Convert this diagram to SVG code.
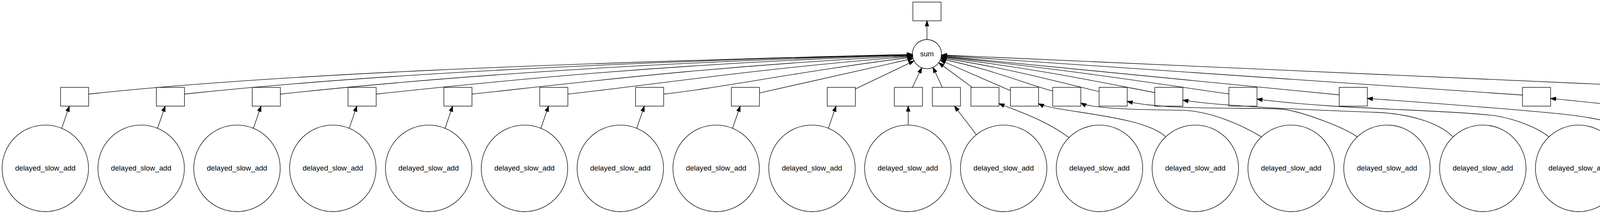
<svg xmlns="http://www.w3.org/2000/svg" width="4894" height="547" viewBox="0 0 4894 547">
<defs>
<style>
.n{fill:none;stroke:#000;stroke-width:1.33}
.e{fill:none;stroke:#000;stroke-width:1.33;marker-end:url(#a)}
text{font-family:"Liberation Sans",Arial,Helvetica,sans-serif;font-size:18.67px;text-anchor:middle;fill:#000}
</style>
<marker id="a" markerUnits="userSpaceOnUse" markerWidth="20" markerHeight="14" refX="13.33" refY="4.67" orient="auto" overflow="visible"><path d="M0,0 L13.33,4.67 L0,9.33 Z" fill="#000" stroke="#000" stroke-width="1.33"/></marker>
</defs>
<rect width="4894" height="547" fill="#fff"/>
<g id="edges">
<path class="e" d="M2373,101 L2373,53.33"/>
<path class="e" d="M227,240.5 C699.3,190 1399.4,162.2 2335.67,138.8"/>
<path class="e" d="M472.33,240.5 C889.7,195.8 1508.4,160.2 2335.69,139.5"/>
<path class="e" d="M717.67,240.5 C1080.1,201.7 1617.3,159.7 2335.72,140.3"/>
<path class="e" d="M963,240.5 C1270.5,207.6 1726.3,160.8 2335.79,141.3"/>
<path class="e" d="M1208.33,240.5 C1460.9,213.5 1835.3,167 2335.9,142.5"/>
<path class="e" d="M1453.67,240.5 C1651.4,219.3 1944.3,174.2 2336.1,144"/>
<path class="e" d="M1699,240.5 C1841.8,225.2 2053.5,181.4 2336.47,146"/>
<path class="e" d="M1944.33,237.6 L2337.38,149.5"/>
<path class="e" d="M2189.67,227.3 L2339.9,155.7"/>
<path class="e" d="M2335.7,223.33 L2359.7,173.2"/>
<path class="e" d="M2412.3,223.33 L2388.5,172.3"/>
<path class="e" d="M2488.7,223.33 L2403.3,160.4"/>
<path class="e" d="M2586.67,231.7 L2407.1,153.75"/>
<path class="e" d="M2694.9,232.7 C2630.5,215.9 2535.5,175.9 2408.29,150.5"/>
<path class="e" d="M2813.6,234 C2723,213.3 2588.7,174.9 2409.06,148"/>
<path class="e" d="M2956.2,236.7 C2834.2,213.6 2653.7,175 2409.53,146"/>
<path class="e" d="M3145.9,240 C2981.1,217.4 2736.7,177.2 2409.82,144.5"/>
<path class="e" d="M3428.4,242.5 L2410.04,143"/>
<path class="e" d="M3897.5,243 L2410.19,141.5"/>
<path class="e" d="M4741.33,244 L2410.27,140.5"/>
<path class="e" d="M158,327.93 L177.5,271.33"/>
<path class="e" d="M403.33,327.93 L422.83,271.33"/>
<path class="e" d="M648.67,327.93 L668.17,271.33"/>
<path class="e" d="M894,327.93 L913.5,271.33"/>
<path class="e" d="M1139.33,327.93 L1158.83,271.33"/>
<path class="e" d="M1384.67,327.93 L1404.17,271.33"/>
<path class="e" d="M1630,327.93 L1649.5,271.33"/>
<path class="e" d="M1875.33,327.93 L1894.83,271.33"/>
<path class="e" d="M2120.67,327.93 L2140.17,271.33"/>
<path class="e" d="M2325,319.33 L2325,271.33"/>
<path class="e" d="M2499.66,344.38 L2443.5,271.33"/>
<path class="e" d="M2736.7,351.8 C2676,306.7 2608.3,285 2557.5,265"/>
<path class="e" d="M2984,349.9 C2930,295 2705,287 2658.67,265"/>
<path class="e" d="M3229.33,349.9 C3185,323 3100,282 3020,281.7 C2960,281 2800,280 2766.9,263.3"/>
<path class="e" d="M3474.67,349.9 C3440,325 3340,288 3290,280 C3240,272 3000,285 2885.6,259.3"/>
<path class="e" d="M3720,349.9 C3680,310 3600,290 3520,287 C3440,284 3150,275 3028.2,256"/>
<path class="e" d="M3965.33,349.9 C3935,325 3880,305 3830,296.2 C3700,280 3420,280 3217.9,253.3"/>
<path class="e" d="M4210.67,349.9 C4180,320 4080,300 4000,291.7 C3900,281 3650,262 3500.4,251.7"/>
<path class="e" d="M4456,349.9 C4430,318 4370,298 4313,290 C4250,282 4080,262 3969.5,251.6"/>
<path class="e" d="M4777.33,319.33 L4777.33,271.33"/>
</g>
<g id="out"><rect class="n" x="2337" y="5.33" width="72" height="48"/></g>
<g id="sum"><circle class="n" cx="2373" cy="138.33" r="37.33"/><text x="2373" y="143.9">sum</text></g>
<g id="b1"><rect class="n" x="155" y="223.33" width="72" height="48"/></g>
<g id="b2"><rect class="n" x="400.33" y="223.33" width="72" height="48"/></g>
<g id="b3"><rect class="n" x="645.67" y="223.33" width="72" height="48"/></g>
<g id="b4"><rect class="n" x="891" y="223.33" width="72" height="48"/></g>
<g id="b5"><rect class="n" x="1136.33" y="223.33" width="72" height="48"/></g>
<g id="b6"><rect class="n" x="1381.67" y="223.33" width="72" height="48"/></g>
<g id="b7"><rect class="n" x="1627" y="223.33" width="72" height="48"/></g>
<g id="b8"><rect class="n" x="1872.33" y="223.33" width="72" height="48"/></g>
<g id="b9"><rect class="n" x="2117.67" y="223.33" width="72" height="48"/></g>
<g id="b10"><rect class="n" x="2289.5" y="223.33" width="72" height="48"/></g>
<g id="b11"><rect class="n" x="2386.8" y="223.33" width="72" height="48"/></g>
<g id="b12"><rect class="n" x="2485.5" y="223.33" width="72" height="48"/></g>
<g id="b13"><rect class="n" x="2586.67" y="223.33" width="72" height="48"/></g>
<g id="b14"><rect class="n" x="2694.9" y="223.33" width="72" height="48"/></g>
<g id="b15"><rect class="n" x="2813.6" y="223.33" width="72" height="48"/></g>
<g id="b16"><rect class="n" x="2956.2" y="223.33" width="72" height="48"/></g>
<g id="b17"><rect class="n" x="3145.9" y="223.33" width="72" height="48"/></g>
<g id="b18"><rect class="n" x="3428.4" y="223.33" width="72" height="48"/></g>
<g id="b19"><rect class="n" x="3897.5" y="223.33" width="72" height="48"/></g>
<g id="b20"><rect class="n" x="4741.33" y="223.33" width="72" height="48"/></g>
<g id="c1"><circle class="n" cx="116" cy="430.33" r="110.67"/><text x="116" y="435.9">delayed_slow_add</text></g>
<g id="c2"><circle class="n" cx="361.33" cy="430.33" r="110.67"/><text x="361.33" y="435.9">delayed_slow_add</text></g>
<g id="c3"><circle class="n" cx="606.67" cy="430.33" r="110.67"/><text x="606.67" y="435.9">delayed_slow_add</text></g>
<g id="c4"><circle class="n" cx="852" cy="430.33" r="110.67"/><text x="852" y="435.9">delayed_slow_add</text></g>
<g id="c5"><circle class="n" cx="1097.33" cy="430.33" r="110.67"/><text x="1097.33" y="435.9">delayed_slow_add</text></g>
<g id="c6"><circle class="n" cx="1342.67" cy="430.33" r="110.67"/><text x="1342.67" y="435.9">delayed_slow_add</text></g>
<g id="c7"><circle class="n" cx="1588" cy="430.33" r="110.67"/><text x="1588" y="435.9">delayed_slow_add</text></g>
<g id="c8"><circle class="n" cx="1833.33" cy="430.33" r="110.67"/><text x="1833.33" y="435.9">delayed_slow_add</text></g>
<g id="c9"><circle class="n" cx="2078.67" cy="430.33" r="110.67"/><text x="2078.67" y="435.9">delayed_slow_add</text></g>
<g id="c10"><circle class="n" cx="2324" cy="430.33" r="110.67"/><text x="2324" y="435.9">delayed_slow_add</text></g>
<g id="c11"><circle class="n" cx="2569.33" cy="430.33" r="110.67"/><text x="2569.33" y="435.9">delayed_slow_add</text></g>
<g id="c12"><circle class="n" cx="2814.67" cy="430.33" r="110.67"/><text x="2814.67" y="435.9">delayed_slow_add</text></g>
<g id="c13"><circle class="n" cx="3060" cy="430.33" r="110.67"/><text x="3060" y="435.9">delayed_slow_add</text></g>
<g id="c14"><circle class="n" cx="3305.33" cy="430.33" r="110.67"/><text x="3305.33" y="435.9">delayed_slow_add</text></g>
<g id="c15"><circle class="n" cx="3550.67" cy="430.33" r="110.67"/><text x="3550.67" y="435.9">delayed_slow_add</text></g>
<g id="c16"><circle class="n" cx="3796" cy="430.33" r="110.67"/><text x="3796" y="435.9">delayed_slow_add</text></g>
<g id="c17"><circle class="n" cx="4041.33" cy="430.33" r="110.67"/><text x="4041.33" y="435.9">delayed_slow_add</text></g>
<g id="c18"><circle class="n" cx="4286.67" cy="430.33" r="110.67"/><text x="4286.67" y="435.9">delayed_slow_add</text></g>
<g id="c19"><circle class="n" cx="4532" cy="430.33" r="110.67"/><text x="4532" y="435.9">delayed_slow_add</text></g>
<g id="c20"><circle class="n" cx="4777.33" cy="430.33" r="110.67"/><text x="4777.33" y="435.9">delayed_slow_add</text></g>
</svg>
